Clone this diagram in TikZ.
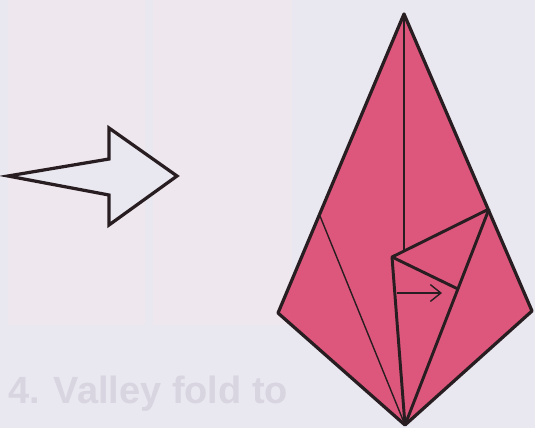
\documentclass[tikz,border=0pt]{standalone}
\usepackage{fontspec}
\setmainfont{Liberation Sans}
\usepackage{tikz}
\usetikzlibrary{calc, arrows.meta, positioning}
\definecolor{paper}{RGB}{233,231,240}
\definecolor{panel}{RGB}{238,231,237}
\definecolor{ghost}{RGB}{216,213,224}
\definecolor{kite}{RGB}{221,87,124}
\definecolor{ink}{RGB}{40,30,34}
\tikzset{  
    x=0.05cm, y=-0.05cm,% one unit is one pixel of the page, y counts down  
    edge/.style = {draw=ink, line width=4.6pt, line join=round}, % the thick outline of the paper  
    crease/.style = {draw=ink, line width=2pt}, % thin fold lines  
    flap/.style = {draw=ink, line width=4.2pt, line join=round},  
    push/.style = {draw=ink, line width=4.6pt, line join=miter, fill=paper}
}
\begin{document}
\begin{tikzpicture}
    % page and the faint panels behind
    \fill[paper] (0,0) rectangle (535,428);
    \useasboundingbox (0,0) rectangle (535,428);
    \fill[panel] (8,0) rectangle (145,325);
    \fill[panel] (153,0) rectangle (292,325);
    \node[anchor=base west, inner sep=0pt, text=ghost, font=\bfseries\fontsize{54}{64}\selectfont] (caption) at (8,403) {4. Valley fold to};

    % big arrow on the left
    \draw[push] (8,176) -- (109,159) -- (109,128) -- (177,176) -- (109,225) -- (109,195) -- cycle;

    % the kite
    \coordinate (top) at (404,14);
    \coordinate (lft) at (278,313);
    \coordinate (rgt) at (532,311);
    \coordinate (bot) at (405,425);
    \coordinate (flp) at (489,209);
    \coordinate (crs) at (320,216);
    \coordinate (inr) at (392,257);
    \coordinate (cnd) at (404,251);
    \coordinate (mid) at (458,289);
    \coordinate (a1) at (397,293);
    \coordinate (a2) at (442,293);
    \fill[kite] (top) -- (rgt) -- (bot) -- (lft) -- cycle;
    \draw[crease] (top) -- (cnd);
    \draw[crease] (crs) -- (bot);
    \draw[flap] (flp) -- (inr) -- (bot);
    \draw[flap] (inr) -- (mid);
    \draw[flap] (flp) -- (bot);
    \draw[crease, -{Straight Barb[length=15pt, width=24pt]}] (a1) -- (a2);
    \draw[edge] (top) -- (rgt) -- (bot) -- (lft) -- cycle;
\end{tikzpicture}
\end{document}
